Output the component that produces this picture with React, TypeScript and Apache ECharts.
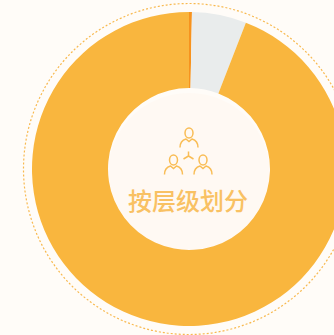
import React, { useEffect, useRef } from "react";
import * as echarts from "echarts";

const names = ["高层", "中层", "基层"];
const values = [0.3, 5.6, 94.1];
const colors = ["#f7931e", "#e9ecec", "#f9b63e"];
const title = "按层级划分";

const person = (x: number, y: number) =>
  `M${x - 4} ${y}a4 5 0 1 0 8 0a4 5 0 1 0 -8 0Z` +
  `M${x - 9} ${y + 14.5}c0 -5 2.5 -7.5 6 -8.5l3 2.5l3 -2.5c3.5 1 6 3.5 6 8.5`;
const iconPath =
  person(189, 133) + person(173.5, 160) + person(203, 160) +
  "M188.5 156v-4.5M188.5 156l-5 3M188.5 156l5 3";

echarts.graphic.registerShape("peopleIcon", echarts.graphic.extendPath(iconPath, {}) as any);

export default function App() {
  const ref = useRef<HTMLDivElement>(null);
  useEffect(() => {
    const chart = echarts.init(ref.current!, undefined, { renderer: "svg" });
    chart.setOption({
      animation: false,
      backgroundColor: "#fffcf8",
      series: [
        {
          type: "pie",
          center: [189, 169],
          radius: [81, 157],
          startAngle: 90,
          clockwise: true,
          silent: true,
          label: { show: false },
          labelLine: { show: false },
          data: names.map((name, i) => ({
            name,
            value: values[i],
            itemStyle: { color: colors[i] },
          })),
        },
      ],
      graphic: [
        {
          type: "circle",
          z: 1,
          shape: { cx: 189, cy: 169, r: 165.5 },
          style: { fill: "none", stroke: "#f8b94f", lineWidth: 1.2, lineDash: [2, 2] },
        },
        {
          type: "circle",
          z: 1,
          shape: { cx: 189, cy: 174, r: 81 },
          style: { fill: "#fff9f3" },
        },
        {
          type: "peopleIcon",
          z: 5,
          style: { fill: "none", stroke: "#f9bd55", lineWidth: 1.5 },
        },
        {
          type: "text",
          z: 5,
          x: 188,
          y: 199,
          style: {
            text: title,
            fill: "#f9c163",
            font: '500 24px "Noto Sans CJK SC"',
            align: "center",
            verticalAlign: "middle",
          },
        },
      ],
    });
    return () => chart.dispose();
  }, []);
  return (
    <div
      ref={ref}
      style={{ position: "fixed", left: 0, top: 0, width: 334, height: 335 }}
    />
  );
}
